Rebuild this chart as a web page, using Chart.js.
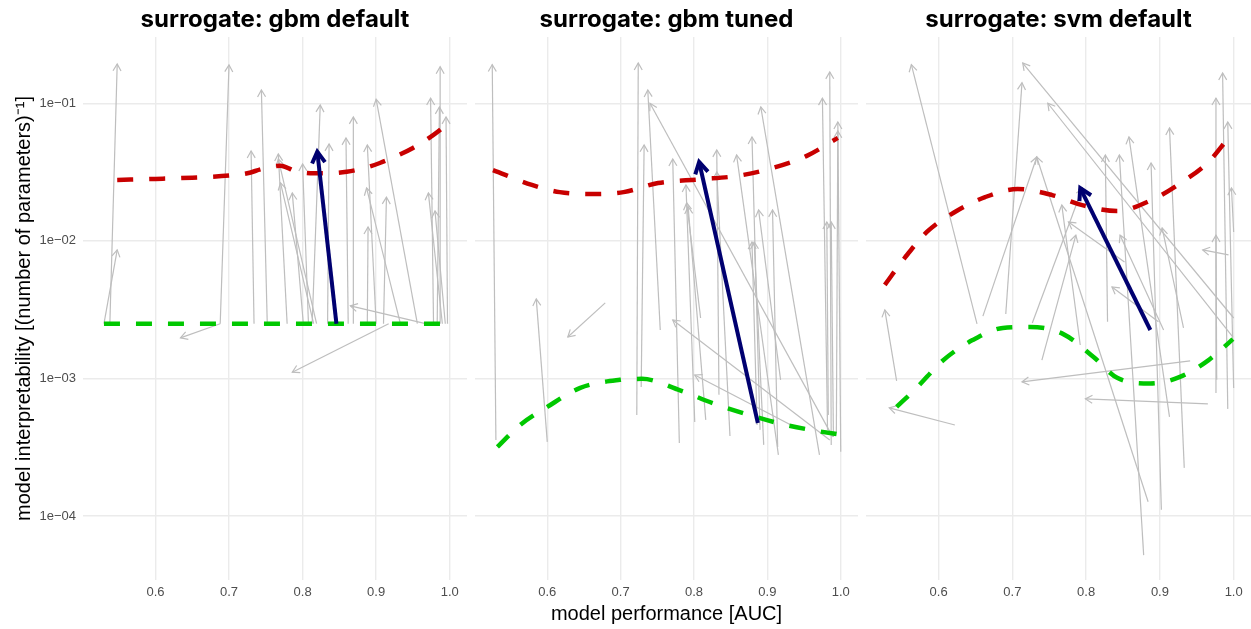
<!DOCTYPE html>
<html>
<head>
<meta charset="utf-8">
<script src="https://cdn.jsdelivr.net/npm/chart.js@4.4.0/dist/chart.umd.min.js"></script>
<style>
  body { margin: 0; background: #fff; }
  #wrap { position: relative; width: 1251px; height: 629px; }
  canvas { position: absolute; top: 0; }
</style>
</head>
<body>
<div id="wrap">
  <canvas id="p1" width="467" height="629" style="left:0px"></canvas>
  <canvas id="p2" width="383" height="629" style="left:475px"></canvas>
  <canvas id="p3" width="385" height="629" style="left:866px"></canvas>
</div>
<script>
// axis ticks
const xTicks = [0.6, 0.7, 0.8, 0.9, 1.0];
const xTickLabels = ["0.6", "0.7", "0.8", "0.9", "1.0"];
const yTicks = [1e-4, 1e-3, 1e-2, 1e-1];
const yTickLabels = ["1e\u221204", "1e\u221203", "1e\u221202", "1e\u221201"];

const panelTitles = ["surrogate: gbm default", "surrogate: gbm tuned", "surrogate: svm default"];

// surrogate: gbm default  (grey arrows, start -> end)
const gbmDefFromAuc = [0.530, 0.538, 0.688, 0.688, 0.734, 0.752, 0.779, 0.819, 0.815, 0.801, 0.808, 0.813, 0.834, 0.862, 0.869, 0.900, 0.956, 0.933, 0.888, 0.910, 0.967, 0.917, 0.978, 0.987, 0.983, 0.997, 0.990, 0.994];
const gbmDefFromInt = [0.0025, 0.0025, 0.0025, 0.0025, 0.0025, 0.0025, 0.0025, 0.0025, 0.0025, 0.0025, 0.0025, 0.0025, 0.0025, 0.0025, 0.0025, 0.0025, 0.0025, 0.0025, 0.0025, 0.0025, 0.0025, 0.0025, 0.0025, 0.0025, 0.0025, 0.0025, 0.0025, 0.0025];
const gbmDefToAuc = [0.548, 0.548, 0.700, 0.634, 0.730, 0.744, 0.767, 0.767, 0.770, 0.786, 0.800, 0.824, 0.836, 0.859, 0.869, 0.888, 0.900, 0.887, 0.889, 0.914, 0.865, 0.786, 0.974, 0.987, 0.986, 0.995, 0.971, 0.980];
const gbmDefToInt = [0.0086, 0.193, 0.19, 0.00197, 0.045, 0.125, 0.0428, 0.0394, 0.0264, 0.0223, 0.0362, 0.097, 0.0506, 0.056, 0.0795, 0.0498, 0.107, 0.0242, 0.0126, 0.0208, 0.00337, 0.00111, 0.109, 0.184, 0.094, 0.0795, 0.0223, 0.0165];

// surrogate: gbm tuned
const gbmTunFromAuc = [0.530, 0.600, 0.679, 0.722, 0.728, 0.754, 0.989, 0.780, 0.801, 0.809, 0.816, 0.834, 0.849, 0.915, 0.890, 0.971, 0.918, 0.914, 0.886, 0.895, 0.982, 0.987, 1.000, 0.994, 0.983, 0.990, 0.985, 0.940];
const gbmTunFromInt = [3.57e-4, 3.46e-4, 3.54e-3, 5.43e-4, 8.67e-4, 2.25e-3, 3.76e-4, 3.4e-4, 4.83e-4, 2.75e-3, 5.0e-4, 7.6e-4, 3.82e-4, 2.78e-4, 4.23e-4, 2.78e-4, 9.77e-4, 3.18e-4, 4.59e-4, 3.29e-4, 4.23e-4, 3.29e-4, 2.93e-4, 4.08e-4, 5.43e-4, 3.76e-4, 3.57e-4, 4.37e-4];
const gbmTunToAuc = [0.525, 0.585, 0.628, 0.724, 0.732, 0.737, 0.740, 0.771, 0.789, 0.790, 0.792, 0.831, 0.831, 0.858, 0.879, 0.891, 0.888, 0.907, 0.879, 0.882, 0.975, 0.985, 0.996, 0.996, 0.981, 0.987, 0.771, 0.801];
const gbmTunToInt = [0.191, 3.79e-3, 2.0e-3, 0.196, 0.0498, 0.125, 0.1, 0.0394, 0.0255, 0.0189, 0.0177, 0.0458, 0.0317, 0.0421, 0.0569, 0.094, 0.0168, 0.0168, 0.0098, 0.0098, 0.109, 0.169, 0.073, 0.063, 0.0137, 0.0137, 2.66e-3, 1.06e-3];

// surrogate: svm default
const svmDefFromAuc = [0.652, 0.691, 1.000, 0.999, 0.660, 0.884, 0.829, 0.878, 0.913, 0.902, 0.933, 0.976, 0.992, 1.000, 1.000, 0.977, 0.993, 0.727, 0.792, 0.852, 0.932, 0.898, 0.740, 0.543, 0.622, 0.941, 0.965, 0.905];
const svmDefFromInt = [2.49e-3, 2.94e-3, 2.75e-3, 2.0e-3, 2.84e-3, 1.27e-4, 2.58e-3, 5.2e-5, 5.26e-4, 1.11e-4, 2.24e-4, 7.85e-4, 6.01e-4, 8.53e-4, 0.0116, 9.77e-4, 0.0079, 2.53e-3, 1.75e-3, 7.03e-3, 2.33e-3, 2.58e-3, 1.36e-3, 9.6e-4, 4.59e-4, 1.34e-3, 6.53e-4, 2.25e-3];
const svmDefToAuc = [0.563, 0.713, 0.714, 0.748, 0.733, 0.733, 0.826, 0.845, 0.858, 0.888, 0.913, 0.976, 0.985, 0.992, 0.997, 0.976, 0.958, 0.795, 0.767, 0.776, 0.903, 0.835, 0.786, 0.527, 0.533, 0.713, 0.799, 0.846];
const svmDefToInt = [0.191, 0.141, 0.196, 0.1, 0.0407, 0.0407, 0.0421, 0.0421, 0.0569, 0.0368, 0.0662, 0.109, 0.166, 0.073, 0.0242, 0.011, 0.0086, 0.0242, 0.0182, 0.0137, 0.0124, 4.62e-3, 0.011, 3.15e-3, 6.11e-4, 9.44e-4, 7.1e-4, 0.011];

// highlighted (blue) arrow per panel
const blueFromAuc = [0.846, 0.887, 0.887];
const blueFromInt = [0.0025, 4.75e-4, 2.25e-3];
const blueToAuc = [0.820, 0.807, 0.792];
const blueToInt = [0.0445, 0.0374, 0.0242];

// dashed fronts
const red1Auc = [0.548, 0.60, 0.65, 0.70, 0.725, 0.745, 0.77, 0.79, 0.815, 0.835, 0.86, 0.885, 0.905, 0.925, 0.95, 0.97, 0.99, 1.0];
const red1Int = [0.0277, 0.0282, 0.0288, 0.0298, 0.031, 0.0333, 0.0352, 0.0322, 0.031, 0.031, 0.0318, 0.0339, 0.0368, 0.0407, 0.0473, 0.0551, 0.0662, 0.0745];
const green1Auc = [0.530, 1.0];
const green1Int = [0.0025, 0.0025];

const red2Auc = [0.526, 0.579, 0.617, 0.665, 0.704, 0.751, 0.808, 0.860, 0.907, 0.953, 0.996];
const red2Int = [0.0327, 0.0255, 0.0226, 0.0219, 0.0226, 0.0263, 0.028, 0.0297, 0.0338, 0.0413, 0.056];
const green2Auc = [0.532, 0.563, 0.600, 0.645, 0.699, 0.729, 0.781, 0.826, 0.872, 0.917, 0.962, 1.0];
const green2Int = [3.18e-4, 4.59e-4, 6.21e-4, 8.55e-4, 9.77e-4, 9.93e-4, 8.2e-4, 6.6e-4, 5.5e-4, 4.7e-4, 4.2e-4, 3.9e-4];

const red3Auc = [0.527, 0.554, 0.584, 0.622, 0.663, 0.707, 0.754, 0.796, 0.842, 0.887, 0.928, 0.966, 0.993];
const red3Int = [0.00479, 0.00752, 0.0116, 0.0162, 0.0208, 0.0238, 0.0215, 0.0181, 0.0165, 0.0196, 0.0263, 0.0375, 0.056];
const green3Auc = [0.543, 0.570, 0.605, 0.646, 0.687, 0.724, 0.769, 0.810, 0.842, 0.887, 0.928, 0.966, 0.999];
const green3Int = [6.21e-4, 8.53e-4, 1.34e-3, 1.9e-3, 2.33e-3, 2.37e-3, 2.1e-3, 1.43e-3, 1.01e-3, 9.2e-4, 1.03e-3, 1.36e-3, 1.93e-3];

const GREY = "#bebebe", RED = "#c80000", GREEN = "#00c800", BLUE = "#000070";
const axisFont = "'Liberation Sans', Arial, sans-serif";

// open arrow head at the last point of a dataset
const arrowHeads = {
  id: "arrowHeads",
  afterDatasetDraw(chart, args) {
    const ds = chart.data.datasets[args.index];
    if (!ds.head) return;
    const pts = args.meta.data;
    const a = pts[pts.length - 2], b = pts[pts.length - 1];
    const ang = Math.atan2(b.y - a.y, b.x - a.x);
    const { ctx, chartArea: ca } = chart;
    ctx.save();
    ctx.beginPath();
    ctx.rect(ca.left, ca.top, ca.right - ca.left, ca.bottom - ca.top);
    ctx.clip();
    ctx.strokeStyle = ds.borderColor;
    ctx.lineWidth = ds.borderWidth;
    ctx.lineJoin = "miter";
    ctx.beginPath();
    ctx.moveTo(b.x - ds.head * Math.cos(ang - Math.PI / 6), b.y - ds.head * Math.sin(ang - Math.PI / 6));
    ctx.lineTo(b.x, b.y);
    ctx.lineTo(b.x - ds.head * Math.cos(ang + Math.PI / 6), b.y - ds.head * Math.sin(ang + Math.PI / 6));
    ctx.stroke();
    ctx.restore();
  }
};

function curve(xs, ys, color) {
  return {
    data: xs.map((x, i) => ({ x: x, y: ys[i] })),
    borderColor: color,
    borderWidth: 4.5,
    borderDash: [16, 16],
    cubicInterpolationMode: "monotone",
    pointRadius: 0,
    order: 1
  };
}

function makePanel(id, p, fromAuc, fromInt, toAuc, toInt, redA, redI, greenA, greenI) {
  const datasets = [];
  for (let i = 0; i < fromAuc.length; i++) {
    datasets.push({
      data: [{ x: fromAuc[i], y: fromInt[i] }, { x: toAuc[i], y: toInt[i] }],
      borderColor: GREY, borderWidth: 1.2, pointRadius: 0, tension: 0, head: 8, order: 2
    });
  }
  datasets.push(curve(redA, redI, RED));
  datasets.push(curve(greenA, greenI, GREEN));
  datasets.push({
    data: [{ x: blueFromAuc[p], y: blueFromInt[p] }, { x: blueToAuc[p], y: blueToInt[p] }],
    borderColor: BLUE, borderWidth: 4, pointRadius: 0, tension: 0, head: 13, order: 0
  });

  const showY = p === 0, showX = p === 1;
  new Chart(document.getElementById(id), {
    type: "line",
    data: { datasets: datasets },
    options: {
      responsive: false,
      animation: false,
      events: [],
      layout: { padding: 0 },
      plugins: {
        legend: { display: false },
        tooltip: { enabled: false },
        title: {
          display: true,
          text: panelTitles[p],
          fullSize: false,
          color: "#000",
          font: { family: "Inter, Roboto, sans-serif", size: 24, weight: "bold" },
          padding: { top: 5, bottom: 3.2 }
        }
      },
      scales: {
        x: {
          type: "linear",
          min: 0.5015,
          max: 1.0235,
          afterBuildTicks: (s) => { s.ticks = xTicks.map((v) => ({ value: v })); },
          afterFit: (s) => { s.height = 49; },
          grid: { color: "#ebebeb", lineWidth: 1.4, drawTicks: false },
          border: { display: false },
          ticks: {
            autoSkip: false, maxRotation: 0, padding: 5, color: "#4d4d4d",
            font: { family: axisFont, size: 13 },
            callback: (v, i) => xTickLabels[i]
          },
          title: {
            display: showX, text: "model performance [AUC]", color: "#000",
            font: { family: axisFont, size: 20 }, padding: { top: 0, bottom: 3 }
          }
        },
        y: {
          type: "logarithmic",
          min: 3.43e-5,
          max: 0.303,
          afterBuildTicks: (s) => { s.ticks = yTicks.map((v) => ({ value: v })); },
          afterFit: (s) => { s.width = showY ? 83 : 0; },
          grid: { color: "#ebebeb", lineWidth: 1.4, drawTicks: false },
          border: { display: false },
          ticks: {
            display: showY, padding: 7, color: "#4d4d4d",
            font: { family: axisFont, size: 13 },
            callback: (v, i) => yTickLabels[i]
          },
          title: {
            display: showY, text: "model interpretability [(number of parameters)\u207B\u00B9]", color: "#000",
            font: { family: axisFont, size: 20 }, padding: { top: 12, bottom: 0 }
          }
        }
      }
    },
    plugins: [arrowHeads]
  });
}

makePanel("p1", 0, gbmDefFromAuc, gbmDefFromInt, gbmDefToAuc, gbmDefToInt, red1Auc, red1Int, green1Auc, green1Int);
makePanel("p2", 1, gbmTunFromAuc, gbmTunFromInt, gbmTunToAuc, gbmTunToInt, red2Auc, red2Int, green2Auc, green2Int);
makePanel("p3", 2, svmDefFromAuc, svmDefFromInt, svmDefToAuc, svmDefToInt, red3Auc, red3Int, green3Auc, green3Int);
</script>
</body>
</html>
